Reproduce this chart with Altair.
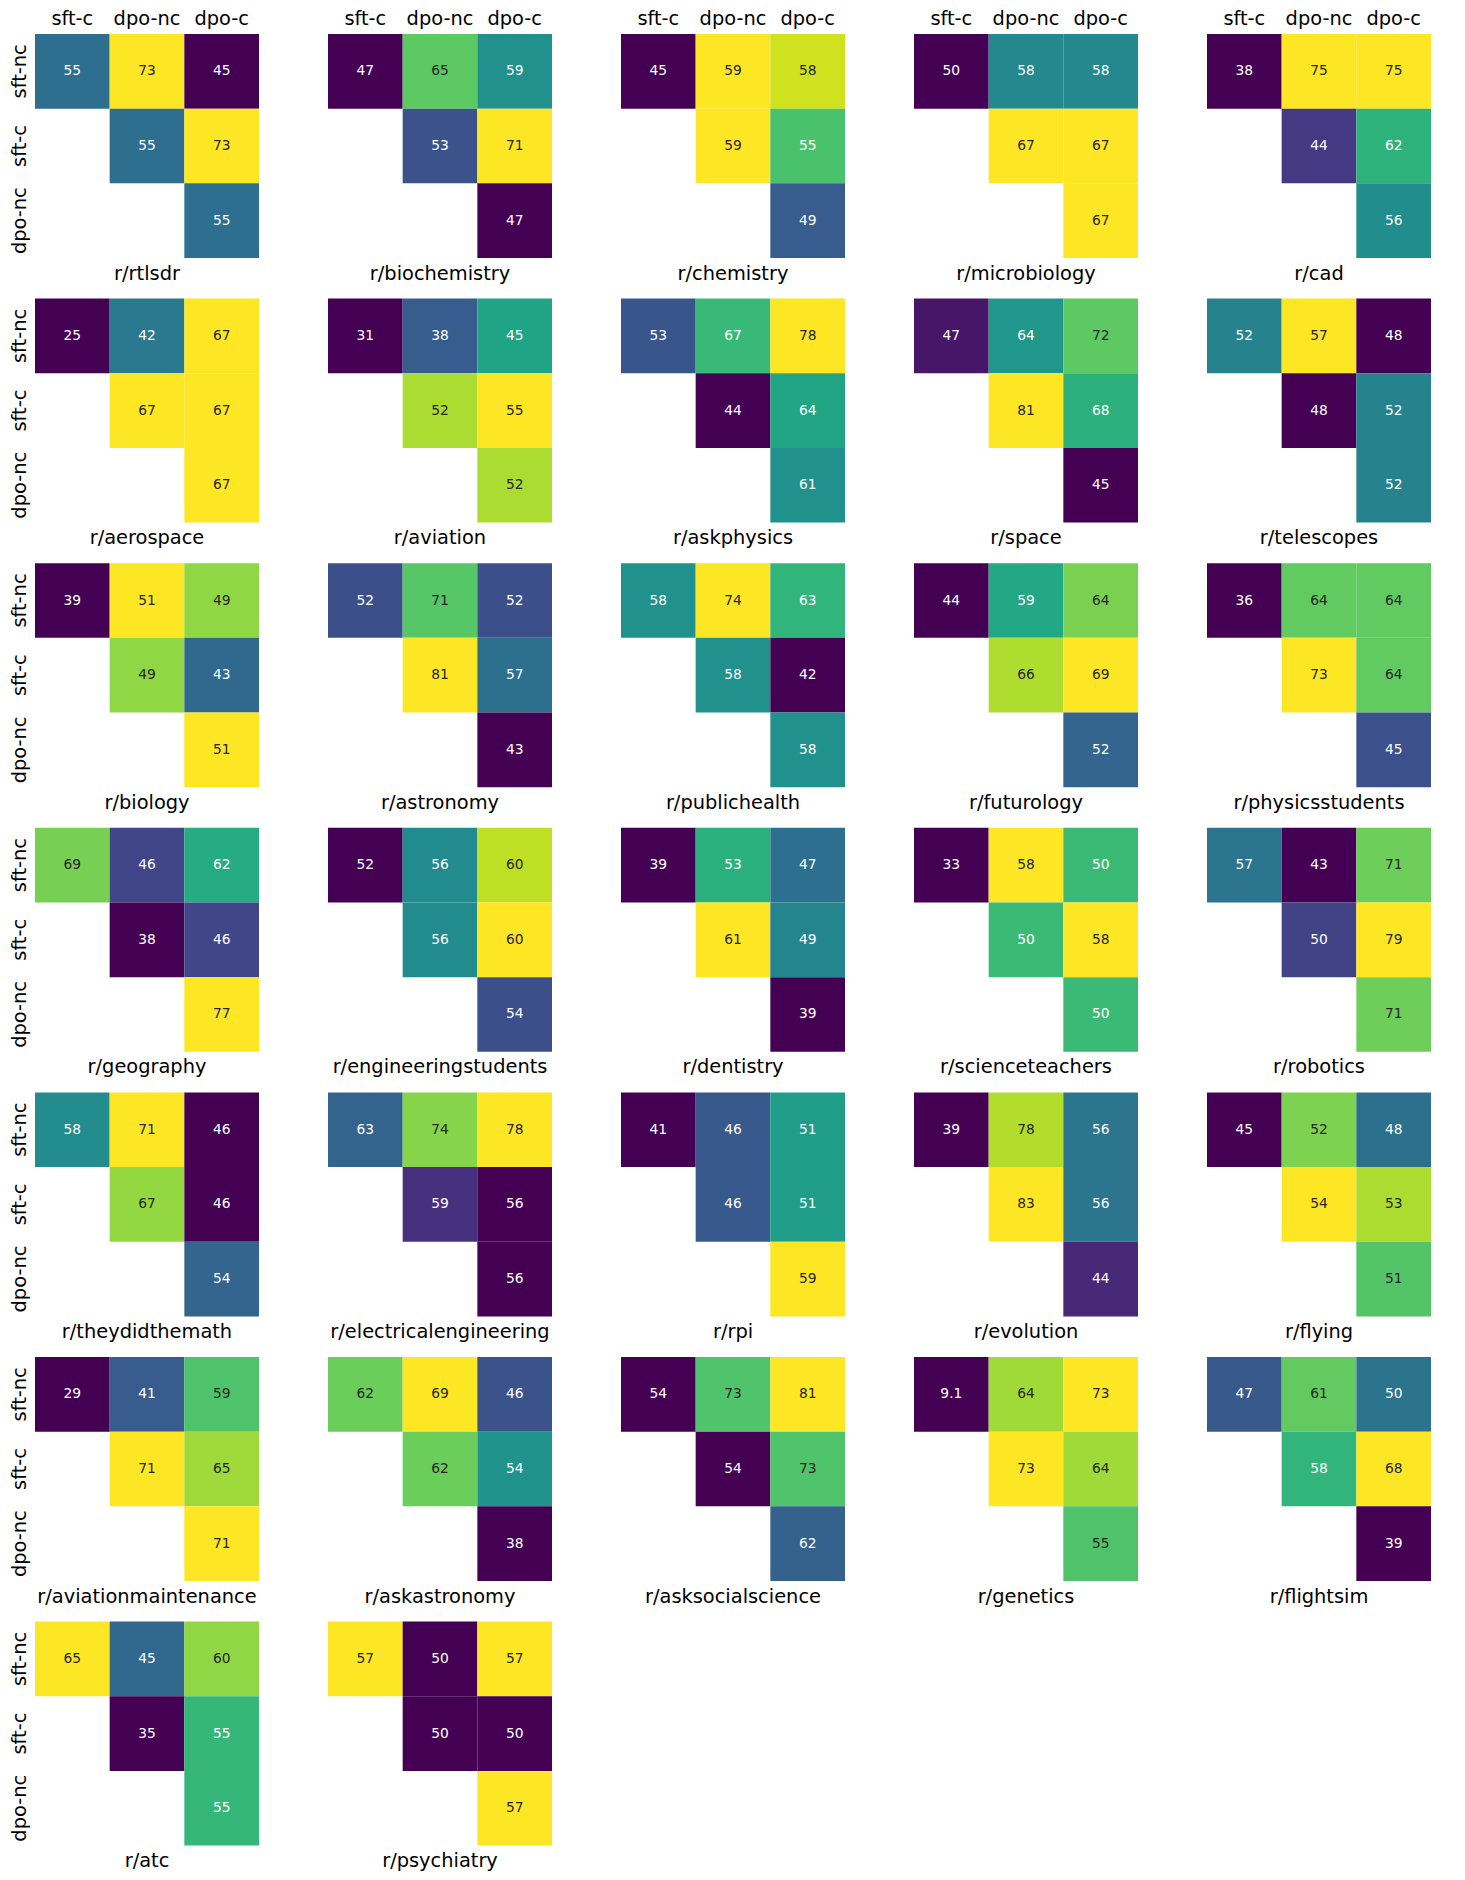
import altair as alt
import pandas as pd

subreddits = [
    "r/rtlsdr", "r/biochemistry", "r/chemistry", "r/microbiology", "r/cad",
    "r/aerospace", "r/aviation", "r/askphysics", "r/space", "r/telescopes",
    "r/biology", "r/astronomy", "r/publichealth", "r/futurology", "r/physicsstudents",
    "r/geography", "r/engineeringstudents", "r/dentistry", "r/scienceteachers", "r/robotics",
    "r/theydidthemath", "r/electricalengineering", "r/rpi", "r/evolution", "r/flying",
    "r/aviationmaintenance", "r/askastronomy", "r/asksocialscience", "r/genetics", "r/flightsim",
    "r/atc", "r/psychiatry",
]
col_labels = ["sft-c", "dpo-nc", "dpo-c"]
row_labels = ["sft-nc", "sft-c", "dpo-nc"]

# win rates (row model vs column model), one value per subreddit
sftnc_vs_sftc = [55, 47, 45, 50, 38, 25, 31, 53, 47, 52, 39, 52, 58, 44, 36, 69, 52, 39, 33, 57,
                 58, 63, 41, 39, 45.4, 29, 62, 53.6, 9.1, 47, 65, 57]
sftnc_vs_dponc = [73, 65, 59, 58, 75, 42, 38, 67, 64, 57, 51, 71, 74, 59, 64, 46, 56, 53, 58, 43,
                  71, 74, 46, 78, 52, 41, 69, 73.4, 64, 61, 45, 50]
sftnc_vs_dpoc = [45, 59, 58, 58, 75, 67, 45, 78, 72, 48, 49, 52, 63, 64, 64, 62, 59.6, 47, 50, 71,
                 46, 78, 51, 56, 48.4, 59.4, 46, 80.9, 73, 50, 60, 57]
sftc_vs_dponc = [55, 53, 59, 67, 44, 67, 52, 44, 81, 48, 49, 81, 58, 66, 73, 38, 56, 61, 50, 50,
                 67, 59, 46, 83, 53.6, 71, 62, 53.6, 73, 58, 35, 50]
sftc_vs_dpoc = [73, 71, 55, 67, 62, 67, 55, 64, 68, 52, 43, 57, 42, 69, 64, 46, 60.4, 49, 58, 79,
                46, 56, 51, 56, 52.6, 65, 54, 73.4, 64, 68, 55, 50]
dponc_vs_dpoc = [55, 47, 49, 67, 56, 67, 52, 61, 45, 52, 51, 43, 58, 52, 45, 77, 54, 39, 50, 71,
                 54, 56, 59, 44, 51.4, 71, 38, 62, 55.4, 39, 55, 57]

records = []
pairs = [
    ("sft-nc", "sft-c", sftnc_vs_sftc),
    ("sft-nc", "dpo-nc", sftnc_vs_dponc),
    ("sft-nc", "dpo-c", sftnc_vs_dpoc),
    ("sft-c", "dpo-nc", sftc_vs_dponc),
    ("sft-c", "dpo-c", sftc_vs_dpoc),
    ("dpo-nc", "dpo-c", dponc_vs_dpoc),
]
for i, name in enumerate(subreddits):
    for r, c, vals in pairs:
        records.append({"panel": name, "row": r, "col": c, "value": vals[i]})
df = pd.DataFrame(records)

FONT = "DejaVu Sans"

x_enc = alt.X(
    "col:N",
    sort=col_labels,
    scale=alt.Scale(domain=col_labels, paddingInner=0, paddingOuter=0),
    axis=alt.Axis(orient="top", labelAngle=0, title=None, domain=False, ticks=False,
                  labelFontSize=19.4, labelFont=FONT, labelColor="black", labelPadding=6),
)
y_enc = alt.Y(
    "row:N",
    sort=row_labels,
    scale=alt.Scale(domain=row_labels, paddingInner=0, paddingOuter=0),
    axis=alt.Axis(labelAngle=270, labelAlign="center", labelBaseline="bottom", title=None,
                  domain=False, ticks=False, labelFontSize=19.4, labelFont=FONT,
                  labelColor="black", labelPadding=6),
)

rect = alt.Chart().mark_rect().encode(
    x=x_enc,
    y=y_enc,
    color=alt.Color("value:Q", scale=alt.Scale(scheme="viridis", zero=False, nice=False), legend=None),
)
text = alt.Chart().mark_text(font=FONT, fontSize=13.8).encode(
    x=x_enc,
    y=y_enc,
    text=alt.Text("value:Q", format=".2r"),
    color=alt.when(alt.datum.t > 0.72).then(alt.value("#262626")).otherwise(alt.value("#ffffff")),
)

layer = alt.layer(rect, text, data=df).transform_joinaggregate(
    vmin="min(value)", vmax="max(value)", groupby=["panel"]
).transform_calculate(
    t="(datum.value - datum.vmin) / (datum.vmax - datum.vmin)"
).properties(width=224, height=224)

chart = layer.facet(
    facet=alt.Facet(
        "panel:N", sort=subreddits, title=None,
        header=alt.Header(labelOrient="bottom", labelFontSize=19.4, labelFont=FONT,
                          labelColor="black", labelPadding=6.6),
    ),
    columns=5,
    spacing={"row": 15.6, "column": 69},
).resolve_scale(color="independent").configure_view(stroke=None).properties(
    padding={"left": 0, "top": 0, "right": 5, "bottom": 5}
)

chart.save("out.html", embed_options={"renderer": "svg", "actions": False})
